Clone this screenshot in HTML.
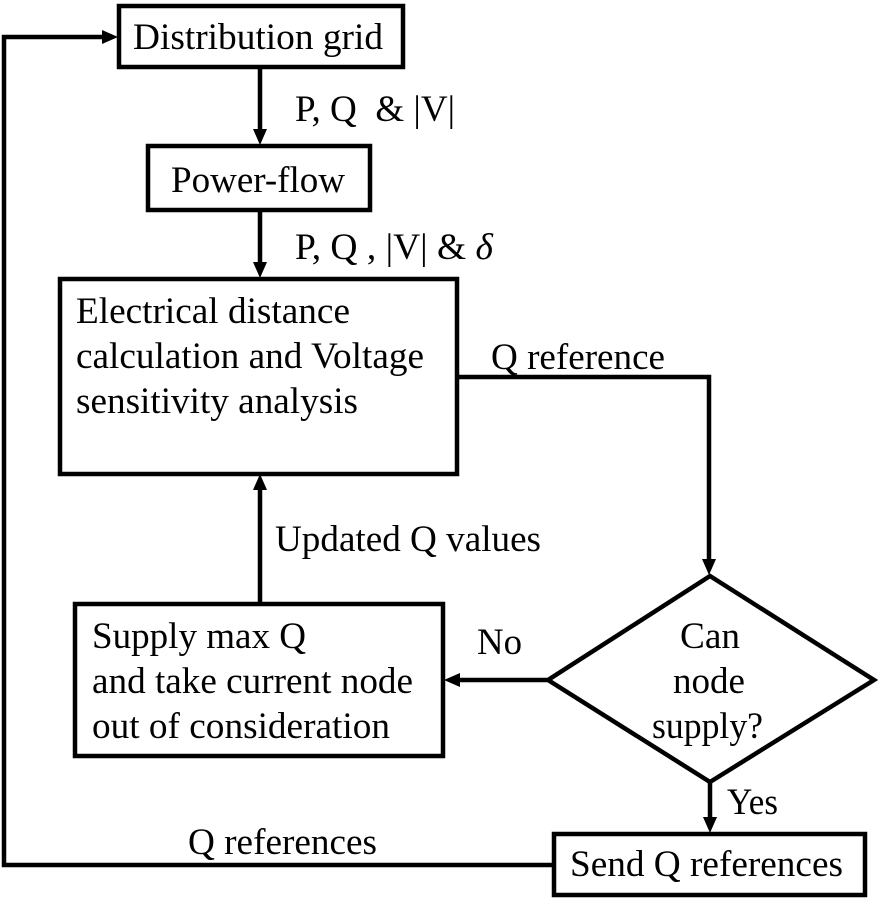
<!DOCTYPE html>
<html><head><meta charset="utf-8"><style>
html,body{margin:0;padding:0;background:#fff;}
svg text{font-family:"Liberation Serif",serif;font-size:37px;fill:#000;}
</style></head><body>
<svg width="879" height="910" viewBox="0 0 879 910" xmlns="http://www.w3.org/2000/svg">
<g fill="none" stroke="#000" stroke-width="4.5">
<rect x="119" y="6" width="284" height="61"/>
<rect x="148" y="146" width="222" height="64"/>
<rect x="60" y="279" width="397" height="195"/>
<rect x="75" y="604" width="368" height="152"/>
<rect x="554" y="834" width="311" height="61"/>
<polygon points="710,576 874,680 710,782 548,680"/>
<polyline points="553,865 4,865 4,37 104,37"/>
<line x1="260" y1="67" x2="260" y2="131"/>
<line x1="260" y1="210" x2="260" y2="263"/>
<polyline points="457,377 709,377 709,560"/>
<line x1="547" y1="680" x2="459" y2="680"/>
<line x1="260" y1="604" x2="260" y2="489"/>
<line x1="710" y1="782" x2="710" y2="818"/>
</g>
<g fill="#000">
<path d="M118,37 L102,30 L102,44 z"/>
<path d="M260,145 L253,129 L267,129 z"/>
<path d="M260,278 L253,262 L267,262 z"/>
<path d="M709,575 L702,559 L716,559 z"/>
<path d="M444,680 L460,673 L460,687 z"/>
<path d="M260,474 L253,490 L267,490 z"/>
<path d="M710,833 L703,817 L717,817 z"/>
</g>
<text x="133" y="49" textLength="250" lengthAdjust="spacingAndGlyphs">Distribution grid</text>
<text x="171" y="192" textLength="174" lengthAdjust="spacingAndGlyphs">Power-flow</text>
<text x="295" y="121" textLength="160" lengthAdjust="spacingAndGlyphs">P, Q &#160;&amp; |V|</text>
<text x="295" y="259" textLength="198" lengthAdjust="spacingAndGlyphs">P, Q , |V| &amp; <tspan font-style="italic">δ</tspan></text>
<text x="76" y="323" textLength="274" lengthAdjust="spacingAndGlyphs">Electrical distance</text>
<text x="76" y="368" textLength="348" lengthAdjust="spacingAndGlyphs">calculation and Voltage</text>
<text x="76" y="413" textLength="282" lengthAdjust="spacingAndGlyphs">sensitivity analysis</text>
<text x="491" y="369" textLength="174" lengthAdjust="spacingAndGlyphs">Q reference</text>
<text x="275" y="551" textLength="266" lengthAdjust="spacingAndGlyphs">Updated Q values</text>
<text x="92" y="648" textLength="214" lengthAdjust="spacingAndGlyphs">Supply max Q</text>
<text x="92" y="693" textLength="321" lengthAdjust="spacingAndGlyphs">and take current node</text>
<text x="92" y="738" textLength="298" lengthAdjust="spacingAndGlyphs">out of consideration</text>
<text x="477" y="654" textLength="45" lengthAdjust="spacingAndGlyphs">No</text>
<text x="680" y="648" textLength="60" lengthAdjust="spacingAndGlyphs">Can</text>
<text x="673" y="693" textLength="72" lengthAdjust="spacingAndGlyphs">node</text>
<text x="652" y="738" textLength="111" lengthAdjust="spacingAndGlyphs">supply?</text>
<text x="727" y="814" textLength="51" lengthAdjust="spacingAndGlyphs">Yes</text>
<text x="570" y="876" textLength="273" lengthAdjust="spacingAndGlyphs">Send Q references</text>
<text x="188" y="854" textLength="189" lengthAdjust="spacingAndGlyphs">Q references</text>
</svg>
</body></html>
